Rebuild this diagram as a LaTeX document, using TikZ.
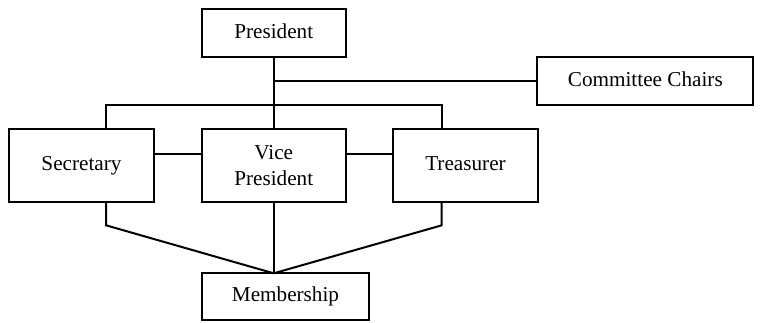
\documentclass[tikz,border=0pt]{standalone}
\usepackage{fontspec}
\setmainfont{Liberation Serif}
\begin{document}
\begin{tikzpicture}[x=1pt,y=-1pt,line width=2pt,
  box/.style={draw=black,fill=white,rectangle,inner sep=0pt,align=center,font=\fontsize{21.2}{26}\selectfont},
  one/.style={text height=15pt,text depth=5pt},
  link/.style={draw=black,line width=2pt}]
\useasboundingbox (0,0) rectangle (760,322);
\node[box,one,minimum width=144pt,minimum height=47.4pt] (pres) at (273.7,33) {President};
\node[box,one,minimum width=216pt,minimum height=48pt] (comm) at (645.3,81.3) {Committee Chairs};
\node[box,one,minimum width=144.4pt,minimum height=72.4pt] (sec) at (81.5,165.5) {Secretary};
\node[box,minimum width=144pt,minimum height=72.4pt] (vp) at (273.7,165.5) {Vice\\President};
\node[box,one,minimum width=144.4pt,minimum height=72.4pt] (tre) at (465.5,165.5) {Treasurer};
\node[box,one,minimum width=167.6pt,minimum height=47pt] (mem) at (285.5,296.8) {Membership};
\coordinate (cj) at (273.7,81.3);
\coordinate (bl) at (106,105.3);
\coordinate (br) at (441.7,105.3);
\coordinate (hl) at (0,153.7);
\coordinate (sb) at (106,201.7);
\coordinate (sk) at (106,225.3);
\coordinate (tb) at (441.7,201.7);
\coordinate (tk) at (441.7,225.3);
\coordinate (mt) at (273.7,273.3);
\draw[link] (pres.south) -- (vp.north);
\draw[link] (cj) -- (comm.west);
\draw[link] (sec.north -| bl) -- (bl) -- (br) -- (tre.north -| br);
\draw[link] (sec.east |- hl) -- (vp.west |- hl);
\draw[link] (vp.east |- hl) -- (tre.west |- hl);
\draw[link] (sb) -- (sk) -- (mt);
\draw[link] (tb) -- (tk) -- (mt);
\draw[link] (vp.south) -- (mt);
\end{tikzpicture}
\end{document}
